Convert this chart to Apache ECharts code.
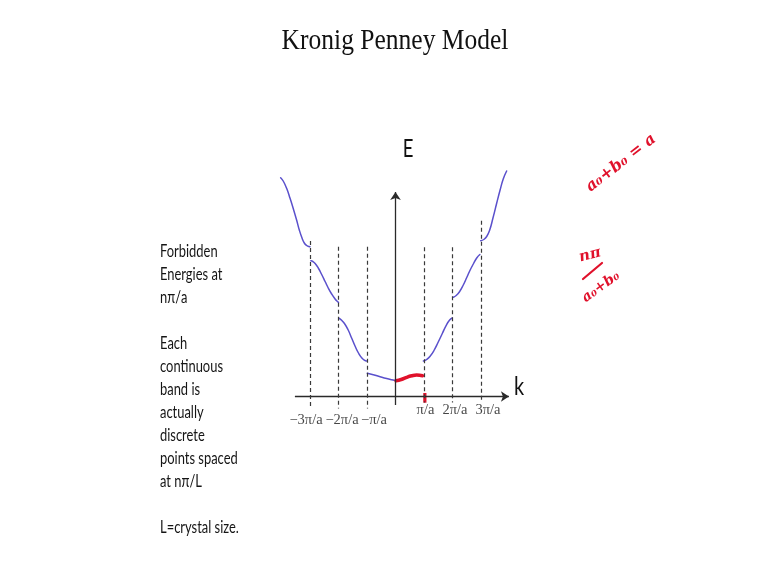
<!DOCTYPE html>
<html>
<head>
<meta charset="utf-8">
<script src="https://cdn.jsdelivr.net/npm/echarts@6/dist/echarts.min.js"></script>
<style>
  html, body { margin: 0; padding: 0; background: #ffffff; }
  #chart { width: 770px; height: 576px; }
</style>
</head>
<body>
<div id="chart"></div>
<script>
// Extended-zone band structure E(k); k in units of pi/a, E in arbitrary units.
const bandOuterLeft = [[-4.03,21.88],[-3.94,21.55],[-3.82,20.82],[-3.70,19.82],[-3.59,18.82],[-3.47,17.65],[-3.37,16.60],[-3.28,15.85],[-3.20,15.35],[-3.12,15.10],[-3.04,15.00],[-3.0,14.98]];
const bandThirdLeft = [[-2.97,13.58],[-2.90,13.50],[-2.82,13.30],[-2.71,12.85],[-2.59,12.20],[-2.47,11.50],[-2.36,10.85],[-2.24,10.25],[-2.12,9.75],[-2.04,9.50],[-2.0,9.42]];
const bandSecondLeft = [[-1.97,7.82],[-1.89,7.62],[-1.78,7.25],[-1.66,6.65],[-1.54,5.85],[-1.42,5.05],[-1.30,4.35],[-1.18,3.85],[-1.08,3.62],[-1.02,3.55]];
const bandFirstLeft = [[-0.99,2.32],[-0.78,2.18],[-0.54,1.98],[-0.31,1.80],[-0.13,1.68],[0.04,1.58]];
const bandFirstRight = [[0.02,1.58],[0.20,1.70],[0.39,1.92],[0.57,2.07],[0.74,2.14],[0.95,2.08]];
const bandSecondRight = [[0.98,3.55],[1.10,3.72],[1.22,4.05],[1.35,4.60],[1.50,5.45],[1.65,6.35],[1.78,7.12],[1.90,7.65],[1.99,7.85]];
const bandThirdRight = [[2.03,9.92],[2.13,10.10],[2.24,10.45],[2.37,11.10],[2.50,11.90],[2.62,12.65],[2.74,13.30],[2.85,13.85],[2.96,14.20]];
const bandOuterRight = [[2.99,15.58],[3.10,15.70],[3.20,16.00],[3.30,16.60],[3.42,17.85],[3.55,19.32],[3.67,20.65],[3.78,21.75],[3.90,22.55]];

// Zone boundaries n*pi/a and the extent of their dashed guides
const zoneBoundaries = [-3, -2, -1, 1, 2, 3];
const boundaryTop = [15.55, 14.98, 14.98, 14.92, 14.92, 17.58];
const boundaryBottom = [-1.2, -1.2, -1.2, -0.6, -0.6, -0.6];
const tickLabels = ['\u22123\u03c0/a', '\u22122\u03c0/a', '\u2212\u03c0/a', '\u03c0/a', '2\u03c0/a', '3\u03c0/a'];

// Axis extents
const kAxisRange = [-3.53, 3.98];
const eAxisRange = [-0.85, 20.45];
// Highlighted discrete state at k = pi/a
const markerK = 1.03;
const markerE = [0.35, -0.62];

// Pixel nudges for the boundary labels
const labelOffsets = [[-4, 23.5], [3.5, 23.5], [7, 23.5], [1.5, 14], [2.5, 14], [7, 14]];

const BLUE = '#5a50cc';
const RED = '#e0112b';
const INK = '#2a2a2a';

const chart = echarts.init(document.getElementById('chart'), null, { renderer: 'canvas' });

function bandSeries(data, color, width) {
  return {
    type: 'line', data: data, smooth: 0.5, showSymbol: false, silent: true,
    lineStyle: { color: color, width: width, cap: 'round' }, z: 3
  };
}

const guideLines = zoneBoundaries.map((k, i) => [
  { coord: [k, boundaryTop[i]] }, { coord: [k, boundaryBottom[i]] }
]);

const option = {
  animation: false,
  backgroundColor: '#ffffff',
  grid: { left: 267.25, right: 246.25, top: 156.5, bottom: 149.5 },
  xAxis: { type: 'value', min: -4.5, max: 4.5, show: false },
  yAxis: { type: 'value', min: -3, max: 24, show: false },
  series: [
    // axes with arrowheads
    {
      type: 'line', data: [], silent: true,
      markLine: {
        silent: true, symbol: ['none', 'arrow'], symbolSize: 8,
        label: { show: false },
        lineStyle: { color: INK, width: 1.3, type: 'solid' },
        emphasis: { disabled: true },
        data: [
          [{ coord: [kAxisRange[0], 0] }, { coord: [kAxisRange[1], 0] }],
          [{ coord: [0, eAxisRange[0]] }, { coord: [0, eAxisRange[1]] }]
        ]
      }
    },
    // dashed zone boundaries
    {
      type: 'line', data: [], silent: true,
      markLine: {
        silent: true, symbol: ['none', 'none'],
        label: { show: false },
        lineStyle: { color: '#3a3a3a', width: 1.2, type: [4, 3] },
        emphasis: { disabled: true },
        data: guideLines
      }
    },
    bandSeries(bandOuterLeft, BLUE, 1.5),
    bandSeries(bandThirdLeft, BLUE, 1.5),
    bandSeries(bandSecondLeft, BLUE, 1.5),
    bandSeries(bandFirstLeft, BLUE, 1.5),
    bandSeries(bandFirstRight, RED, 3.5),
    bandSeries(bandSecondRight, BLUE, 1.5),
    bandSeries(bandThirdRight, BLUE, 1.5),
    bandSeries(bandOuterRight, BLUE, 1.5),
    // red marker on the k axis at pi/a
    {
      type: 'line', showSymbol: false, silent: true, z: 4,
      data: [[markerK, markerE[0]], [markerK, markerE[1]]],
      lineStyle: { color: RED, width: 3.2 }
    },
    // boundary labels
    {
      type: 'scatter', symbolSize: 0, silent: true,
      data: zoneBoundaries.map((k, i) => ({
        value: [k, 0],
        label: {
          show: true, position: 'inside', formatter: tickLabels[i],
          offset: labelOffsets[i],
          fontFamily: 'Liberation Serif', fontSize: 14.5, color: '#151515'
        }
      }))
    }
  ],
  graphic: [
    {
      type: 'text', x: 395, y: 41, scaleX: 0.88,
      style: {
        text: 'Kronig Penney Model', fontFamily: 'Liberation Serif', fontSize: 29,
        fill: '#111', align: 'center', verticalAlign: 'middle'
      }
    },
    {
      type: 'text', x: 408, y: 149, scaleX: 0.74,
      style: { text: 'E', fontFamily: 'Lato', fontSize: 25, fill: '#111', align: 'center', verticalAlign: 'middle' }
    },
    {
      type: 'text', x: 519, y: 387, scaleX: 0.8,
      style: { text: 'k', fontFamily: 'Lato', fontSize: 25, fill: '#111', align: 'center', verticalAlign: 'middle' }
    },
    {
      type: 'text', x: 160, y: 240.2, scaleX: 0.76,
      style: {
        text: 'Forbidden\nEnergies at\nn\u03c0/a\n\nEach\ncontinuous\nband is\nactually\ndiscrete\npoints spaced\nat n\u03c0/L\n\nL=crystal size.',
        fontFamily: 'Lato', fontSize: 17, lineHeight: 23, fill: '#151515',
        align: 'left', verticalAlign: 'top'
      }
    },
    {
      type: 'text', x: 621, y: 163, rotation: 0.66,
      style: {
        text: 'a\u2080+b\u2080 = a', fontFamily: 'DejaVu Serif', fontStyle: 'italic', fontWeight: 'bold',
        fontSize: 16, fill: RED, align: 'center', verticalAlign: 'middle'
      }
    },
    {
      type: 'text', x: 590, y: 255, rotation: 0.25,
      style: {
        text: 'n\u03c0', fontFamily: 'DejaVu Serif', fontStyle: 'italic', fontWeight: 'bold',
        fontSize: 15, fill: RED, align: 'center', verticalAlign: 'middle'
      }
    },
    {
      type: 'line', shape: { x1: 583, y1: 279, x2: 602, y2: 263 },
      style: { stroke: RED, lineWidth: 2.2, lineCap: 'round' }
    },
    {
      type: 'text', x: 601, y: 287, rotation: 0.63,
      style: {
        text: 'a\u2080+b\u2080', fontFamily: 'DejaVu Serif', fontStyle: 'italic', fontWeight: 'bold',
        fontSize: 14, fill: RED, align: 'center', verticalAlign: 'middle'
      }
    }
  ]
};

chart.setOption(option);
</script>
</body>
</html>
